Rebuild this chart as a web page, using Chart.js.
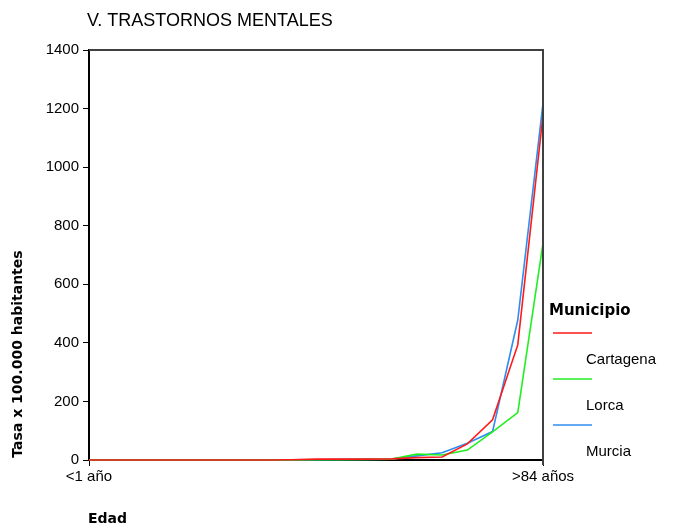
<!DOCTYPE html>
<html>
<head>
<meta charset="utf-8">
<script src="https://cdn.jsdelivr.net/npm/chart.js@4/dist/chart.umd.min.js"></script>
<style>
html,body{margin:0;padding:0;background:#fff;}
#wrap{width:677px;height:527px;position:relative;}
</style>
</head>
<body>
<div id="wrap"><canvas id="c" width="677" height="527"></canvas></div>
<script>
const titleText = 'V. TRASTORNOS MENTALES';
const yAxisTitle = 'Tasa x 100.000 habitantes';
const xAxisTitle = 'Edad';
const legendTitle = 'Municipio';
const ageGroups = ['<1 año','1-4','5-9','10-14','15-19','20-24','25-29','30-34','35-39','40-44','45-49','50-54','55-59','60-64','65-69','70-74','75-79','80-84','>84 años'];
const seriesNames = ['Cartagena','Lorca','Murcia'];
const seriesColors = ['#ff1a1a','#22ee22','#2f8cf0'];
const cartagena = [0,0,0,0,0,0,0,0,1,3,3,3,4,8,10,55,137,393,1178];
const lorca     = [0,0,0,0,0,0,0,0,0,1,1,2,3,20,17,34,96,162,740];
const murcia    = [0,0,0,0,0,0,0,0,0,1,2,2,3,14,25,57,97,478,1218];
const seriesValues = [cartagena, lorca, murcia];
const yTicks = [0,200,400,600,800,1000,1200,1400];

const FONT = '"Liberation Sans", Arial, sans-serif';
const BOLD = '"DejaVu Sans", sans-serif';

const decor = {
  id: 'decor',
  afterDraw(chart) {
    const ctx = chart.ctx;
    const a = chart.chartArea;
    ctx.save();
    // frame top & right
    ctx.strokeStyle = '#404040';
    ctx.lineWidth = 2;
    ctx.beginPath();
    ctx.moveTo(a.left, a.top);
    ctx.lineTo(a.right, a.top);
    ctx.lineTo(a.right, a.bottom + 5);
    ctx.stroke();
    // title
    ctx.fillStyle = '#000';
    ctx.font = '18px ' + FONT;
    ctx.textAlign = 'left';
    ctx.textBaseline = 'middle';
    ctx.fillText(titleText, 87, 21);
    // x axis title
    ctx.font = 'bold 14px ' + BOLD;
    ctx.fillText(xAxisTitle, 88, 519);
    // y axis title
    ctx.save();
    ctx.translate(18, 354);
    ctx.rotate(-Math.PI / 2);
    ctx.textAlign = 'center';
    ctx.fillText(yAxisTitle, 0, 0);
    ctx.restore();
    // legend
    ctx.font = 'bold 15px ' + BOLD;
    ctx.textAlign = 'left';
    ctx.fillText(legendTitle, 549, 311);
    ctx.font = '15px ' + FONT;
    chart.data.datasets.forEach((ds, i) => {
      const ly = 333 + i * 46;
      ctx.strokeStyle = ds.borderColor;
      ctx.lineWidth = 1.5;
      ctx.beginPath();
      ctx.moveTo(553, ly);
      ctx.lineTo(592, ly);
      ctx.stroke();
      ctx.fillStyle = '#000';
      ctx.fillText(ds.label, 586, ly + 27);
    });
    ctx.restore();
  }
};

new Chart(document.getElementById('c'), {
  type: 'line',
  data: {
    labels: ageGroups,
    datasets: seriesNames.map((n, i) => ({
      label: n,
      data: seriesValues[i],
      borderColor: seriesColors[i],
      backgroundColor: seriesColors[i],
      borderWidth: 1.6,
      pointRadius: 0,
      tension: 0,
      clip: false
    }))
  },
  options: {
    responsive: false,
    animation: false,
    layout: { padding: { left: 0, right: 134, top: 50, bottom: 0 } },
    plugins: { legend: { display: false }, title: { display: false }, tooltip: { enabled: false } },
    scales: {
      x: {
        type: 'category',
        offset: false,
        afterFit(s) { s.height = 67; },
        border: { display: true, color: '#000', width: 2 },
        grid: {
          drawOnChartArea: false,
          tickLength: 6,
          color: (c) => (c.index === 0 || c.index === ageGroups.length - 1) ? '#000' : 'rgba(0,0,0,0)'
        },
        ticks: {
          autoSkip: false,
          maxRotation: 0,
          padding: 2,
          color: '#000',
          font: { family: FONT, size: 15 },
          callback: (v, i) => (i === 0 || i === ageGroups.length - 1) ? ageGroups[i] : ''
        }
      },
      y: {
        min: 0,
        max: 1400,
        afterFit(s) { s.width = 89; },
        afterBuildTicks(s) { s.ticks = yTicks.map(v => ({ value: v })); },
        border: { display: true, color: '#000', width: 2 },
        grid: { drawOnChartArea: false, tickLength: 6, color: '#000' },
        ticks: { color: '#000', padding: 4, font: { family: FONT, size: 15 }, callback: (v) => String(v) }
      }
    }
  },
  plugins: [decor]
});
</script>
</body>
</html>
